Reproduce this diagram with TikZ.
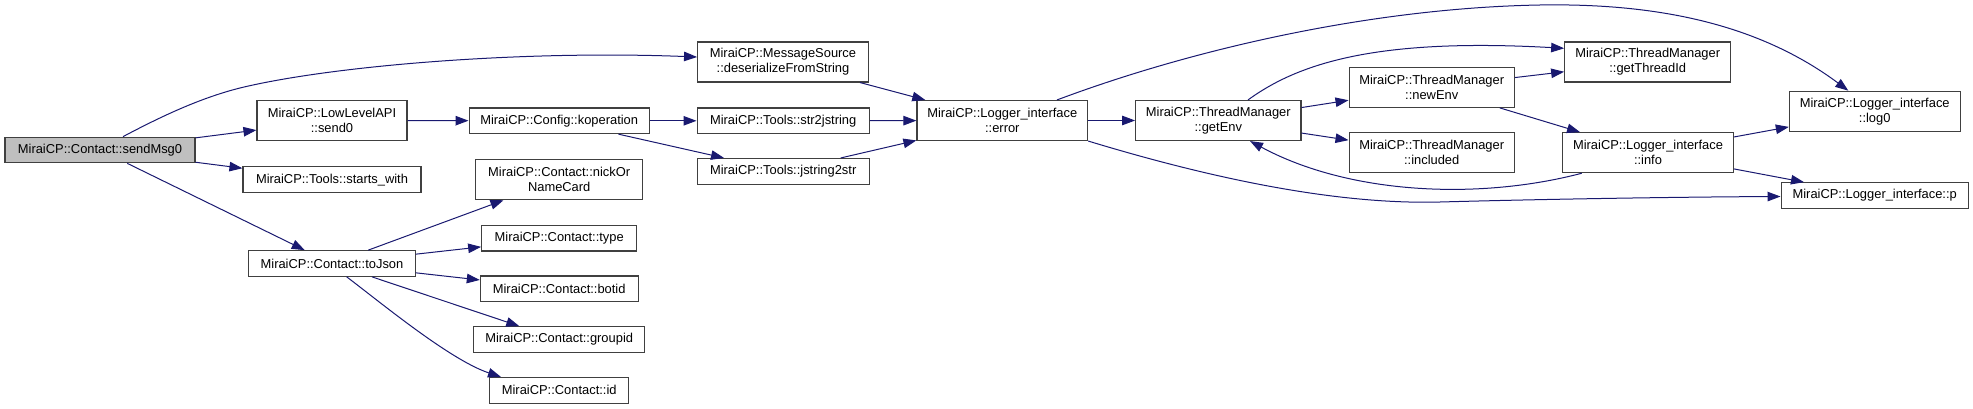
\documentclass[tikz,border=0pt]{standalone}
\usepackage{fontspec}
\setmainfont{Liberation Sans}
\usetikzlibrary{arrows.meta}
\definecolor{edgec}{HTML}{191970}
\definecolor{boxc}{HTML}{404040}
\definecolor{rootc}{HTML}{BFBFBF}
\begin{document}
\begin{tikzpicture}[x=1pt,y=-1pt,
  fn/.style={draw=boxc, line width=1.1pt, fill=white, inner sep=0pt, align=center,
    font=\fontsize{12.9}{15}\selectfont, text=black},
  one/.style={minimum height=25.6pt},
  two/.style={minimum height=40pt},
  call/.style={draw=edgec, line width=1pt, -{Triangle[length=13pt,width=9.5pt]}}]
\useasboundingbox (0,0) rectangle (1973,409);
% nodes
\node[fn,one,fill=rootc,minimum width=190pt] (sendMsg) at (100,150) {MiraiCP::Contact::sendMsg0};
\node[fn,two,minimum width=150pt] (send0) at (332,120.5) {MiraiCP::LowLevelAPI\\::send0};
\node[fn,one,minimum width=178pt] (starts) at (332,179.7) {MiraiCP::Tools::starts\_with};
\node[fn,one,minimum width=166.3pt] (toJson) at (332,263.5) {MiraiCP::Contact::toJson};
\node[fn,two,minimum width=170.8pt] (msgsrc) at (783,62) {MiraiCP::MessageSource\\::deserializeFromString};
\node[fn,one,minimum width=180.3pt] (kop) at (559.2,120.8) {MiraiCP::Config::koperation};
\node[fn,one,minimum width=172.3pt] (s2j) at (783.2,120.8) {MiraiCP::Tools::str2jstring};
\node[fn,one,minimum width=172.3pt] (j2s) at (783.2,171.3) {MiraiCP::Tools::jstring2str};
\node[fn,two,minimum width=167pt] (nick) at (559.2,179.7) {MiraiCP::Contact::nickOr\\NameCard};
\node[fn,one,minimum width=155pt] (type) at (559.2,238.2) {MiraiCP::Contact::type};
\node[fn,one,minimum width=157.7pt] (botid) at (559.2,288.8) {MiraiCP::Contact::botid};
\node[fn,one,minimum width=171pt] (groupid) at (559.2,339.5) {MiraiCP::Contact::groupid};
\node[fn,one,minimum width=139pt] (cid) at (559.2,390.3) {MiraiCP::Contact::id};
\node[fn,two,minimum width=170.7pt] (error) at (1002.3,120.5) {MiraiCP::Logger\_interface\\::error};
\node[fn,two,minimum width=165.3pt] (getEnv) at (1218.3,120.5) {MiraiCP::ThreadManager\\::getEnv};
\node[fn,two,minimum width=165.3pt] (newEnv) at (1431.7,87.3) {MiraiCP::ThreadManager\\::newEnv};
\node[fn,two,minimum width=165.3pt] (included) at (1431.7,152.7) {MiraiCP::ThreadManager\\::included};
\node[fn,two,minimum width=166pt] (tid) at (1647.7,62) {MiraiCP::ThreadManager\\::getThreadId};
\node[fn,two,minimum width=170.6pt] (info) at (1648,152.7) {MiraiCP::Logger\_interface\\::info};
\node[fn,two,minimum width=170.7pt] (log0) at (1874.7,111.2) {MiraiCP::Logger\_interface\\::log0};
\node[fn,one,minimum width=187.3pt] (p) at (1874.7,195.5) {MiraiCP::Logger\_interface::p};
% straight edges
\draw[call] (sendMsg) -- (send0);
\draw[call] (sendMsg) -- (starts);
\draw[call] (sendMsg) -- (toJson);
\draw[call] (send0) -- (kop);
\draw[call] (kop) -- (s2j);
\draw[call] (kop) -- (j2s);
\draw[call] (msgsrc) -- (error);
\draw[call] (s2j) -- (error);
\draw[call] (j2s) -- (error);
\draw[call] (error) -- (getEnv);
\draw[call] (getEnv) -- (newEnv);
\draw[call] (getEnv) -- (included);
\draw[call] (newEnv) -- (tid);
\draw[call] (newEnv) -- (info);
\draw[call] (info) -- (log0);
\draw[call] (info) -- (p);
\draw[call] (toJson) -- (nick);
\draw[call] (toJson) -- (type);
\draw[call] (toJson) -- (botid);
\draw[call] (toJson) -- (groupid);
% curved edges
\draw[call] ([xshift=23pt]sendMsg.north) .. controls (160,117) and (200,98) .. (240,88)
  .. controls (330,66) and (520,50) .. ([yshift=5pt]msgsrc.west);
\draw[call] ([xshift=14.7pt]toJson.south) .. controls (380,302) and (450,360) .. ([xshift=-58.2pt]cid.north);
\draw[call] ([xshift=54.7pt]error.north) .. controls (1190,50) and (1370,8) .. (1540,5)
  .. controls (1660,3) and (1760,25) .. ([xshift=-26.4pt]log0.north);
\draw[call] (error.south east) .. controls (1200,175) and (1330,205) .. (1440,202)
  .. controls (1550,199) and (1680,197) .. ([yshift=-1pt]p.west);
\draw[call] ([xshift=29.7pt]getEnv.north) .. controls (1300,62) and (1380,38) .. ([yshift=13.7pt]tid.west);
\draw[call] ([xshift=-66.3pt]info.south) .. controls (1480,200) and (1350,195) .. ([xshift=31.7pt]getEnv.south);
\end{tikzpicture}
\end{document}
